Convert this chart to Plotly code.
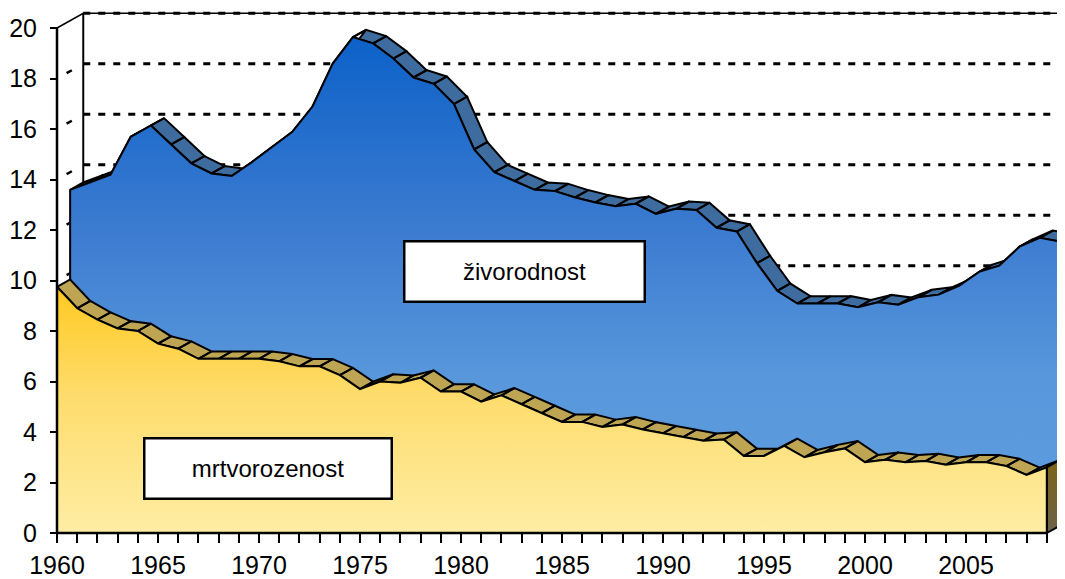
import plotly.graph_objects as go

# ---------------- data ----------------
years = list(range(1960, 2010))
zivorodnost = [13.3, 13.6, 13.9, 15.4, 15.85, 15.1, 14.35, 13.95, 13.85, 14.4,
               15.0, 15.6, 16.6, 18.3, 19.35, 19.1, 18.5, 17.75, 17.5, 16.7,
               14.9, 14.0, 13.65, 13.3, 13.25, 13.0, 12.8, 12.65, 12.75, 12.35,
               12.55, 12.5, 11.8, 11.65, 10.4, 9.3, 8.8, 8.8, 8.8, 8.65,
               8.85, 8.75, 9.05, 9.15, 9.5, 10.05, 10.3, 11.05, 11.4, 11.25]
mrtvorozenost = [9.75, 8.9, 8.45, 8.1, 8.0, 7.5, 7.3, 6.9, 6.9, 6.9,
                 6.9, 6.8, 6.6, 6.6, 6.25, 5.7, 6.0, 5.95, 6.15, 5.6,
                 5.6, 5.2, 5.45, 5.1, 4.75, 4.4, 4.4, 4.2, 4.3, 4.1,
                 3.95, 3.8, 3.65, 3.7, 3.05, 3.05, 3.45, 3.0, 3.2, 3.35,
                 2.8, 2.9, 2.8, 2.85, 2.7, 2.8, 2.8, 2.65, 2.3, 2.6]
series_names = ["živorodnost", "mrtvorozenost"]
y_tick_values = list(range(0, 21, 2))
x_label_step = 5

# ---------------- geometry / style ----------------
DX, DY = 0.65, 0.29            # 3D depth of one series (in axis units)
PX_YEAR, PX_UNIT = 20.2, 25.25
W, H = 1065, 579
OFF = 8                          # page body margin offset
X0_PAGE, Y0_PAGE = 57, 533       # page pixel of (1960, 0)
X0_PX, Y0_PX = X0_PAGE - OFF, Y0_PAGE - OFF
L_PX, B_PX = X0_PX - 17, Y0_PX + 12
x_range = [years[0] - (X0_PX - L_PX) / PX_YEAR, years[0] + (W - X0_PX) / PX_YEAR]
y_range = [-(B_PX - Y0_PX) / PX_UNIT, Y0_PX / PX_UNIT]
FONT = "Liberation Sans, Arial, sans-serif"

fig = go.Figure()


def line_trace(xs, ys, width=2.0, dash="solid", color="black"):
    fig.add_trace(go.Scatter(x=xs, y=ys, mode="lines", hoverinfo="skip",
                             line=dict(color=color, width=width, dash=dash)))


ymax = y_tick_values[-1]
x_first, x_last = years[0], years[-1]

# back wall grid lines
gx, gy = [], []
for v in y_tick_values[1:]:
    gx += [x_first + 2 * DX, x_range[1] + 2, None]
    gy += [v + 2 * DY, v + 2 * DY, None]
line_trace(gx, gy, width=3, dash="7px,8px")
# side wall grid lines
sx, sy = [], []
for v in y_tick_values[1:-1]:
    sx += [x_first, x_first + 2 * DX, None]
    sy += [v, v + 2 * DY, None]
line_trace(sx, sy, width=2.5, dash="0px,11px,6px,30px")
# wall edges
line_trace([x_first, x_first + 2 * DX, x_range[1] + 2],
           [ymax, ymax + 2 * DY, ymax + 2 * DY], width=1.5)
line_trace([x_first + 2 * DX, x_first + 2 * DX], [ymax + 2 * DY, 2 * DY], width=2)


def ribbon(values, depth_index, color):
    d0, d1 = depth_index, depth_index + 1
    xs, ys = [], []
    for i in range(len(years) - 1):
        xa, xb = years[i], years[i + 1]
        va, vb = values[i], values[i + 1]
        xs += [xa + d0 * DX, xb + d0 * DX, xb + d1 * DX, xa + d1 * DX, xa + d0 * DX, None]
        ys += [va + d0 * DY, vb + d0 * DY, vb + d1 * DY, va + d1 * DY, va + d0 * DY, None]
    fig.add_trace(go.Scatter(x=xs, y=ys, mode="lines", fill="toself", fillcolor=color,
                             hoverinfo="skip", line=dict(color="black", width=2)))


def right_face(values, depth_index, colorscale):
    d0, d1 = depth_index, depth_index + 1
    v = values[-1]
    xs = [x_last + d0 * DX, x_last + d0 * DX, x_last + d1 * DX, x_last + d1 * DX, x_last + d0 * DX]
    ys = [d0 * DY, v + d0 * DY, v + d1 * DY, d1 * DY, d0 * DY]
    fig.add_trace(go.Scatter(x=xs, y=ys, mode="lines", fill="toself",
                             fillgradient=dict(type="vertical", colorscale=colorscale),
                             hoverinfo="skip", line=dict(color="black", width=2)))


def front_face(values, depth_index, name, colorscale, start, stop):
    d0 = depth_index
    xs = [x_first + d0 * DX] + [y + d0 * DX for y in years] + [x_last + d0 * DX, x_first + d0 * DX]
    ys = [d0 * DY] + [v + d0 * DY for v in values] + [d0 * DY, d0 * DY]
    fig.add_trace(go.Scatter(x=xs, y=ys, mode="lines", fill="toself", name=name,
                             fillgradient=dict(type="vertical", colorscale=colorscale,
                                               start=start, stop=stop),
                             hoverinfo="skip", line=dict(color="black", width=2)))


# back series: živorodnost
ribbon(zivorodnost, 1, "#3e6c9f")
right_face(zivorodnost, 1, [[0, "#2a4670"], [1, "#17386a"]])
front_face(zivorodnost, 1, series_names[0],
           [[0, "#5e9ede"], [0.3, "#5897db"], [0.6, "#3b7bd0"], [1, "#0a60c8"]], DY, 20)

# front series: mrtvorozenost
ribbon(mrtvorozenost, 0, "#bda553")
right_face(mrtvorozenost, 0, [[0, "#6c6248"], [1, "#7d6418"]])
front_face(mrtvorozenost, 0, series_names[1],
           [[0, "#feeda4"], [0.55, "#fedc6c"], [1, "#ffc81c"]], 0, 10)

# front axis lines
line_trace([x_first, x_first], [0, ymax], width=2.5)
line_trace([x_first, x_last], [0, 0], width=2.5)

tick_text = [str(y) if y % x_label_step == 0 else "" for y in years]

fig.update_layout(
    template="none",
    width=W, height=H,
    margin=dict(l=L_PX, r=0, t=0, b=H - B_PX, autoexpand=False),
    paper_bgcolor="white", plot_bgcolor="white",
    showlegend=False,
    font=dict(family=FONT, size=25, color="black"),
    xaxis=dict(range=x_range, showgrid=False, zeroline=False, showline=False,
               automargin=False,
               tickvals=years, ticktext=tick_text, ticks="outside", ticklen=9,
               tickwidth=2, tickcolor="black", anchor="free",
               position=(B_PX - Y0_PX) / B_PX, ticklabelstandoff=1,
               tickfont=dict(family=FONT, size=25)),
    yaxis=dict(range=y_range, showgrid=False, zeroline=False, showline=False,
               automargin=False,
               tickvals=y_tick_values, ticks="outside", ticklen=7, tickwidth=2,
               tickcolor="black", anchor="free",
               position=(X0_PX - L_PX) / (W - L_PX), ticklabelstandoff=8,
               tickfont=dict(family=FONT, size=25)),
)

fig.add_annotation(x=years[0] + (524 - X0_PAGE) / PX_YEAR, y=(Y0_PAGE - 271) / PX_UNIT,
                   xref="x", yref="y", text=series_names[0], showarrow=False,
                   width=236, height=56, bgcolor="white", bordercolor="black",
                   borderwidth=2.5, font=dict(family=FONT, size=24))
fig.add_annotation(x=years[0] + (268 - X0_PAGE) / PX_YEAR, y=(Y0_PAGE - 468) / PX_UNIT,
                   xref="x", yref="y", text=series_names[1], showarrow=False,
                   width=243, height=56, bgcolor="white", bordercolor="black",
                   borderwidth=2.5, font=dict(family=FONT, size=24))

fig.write_html("out.html")
